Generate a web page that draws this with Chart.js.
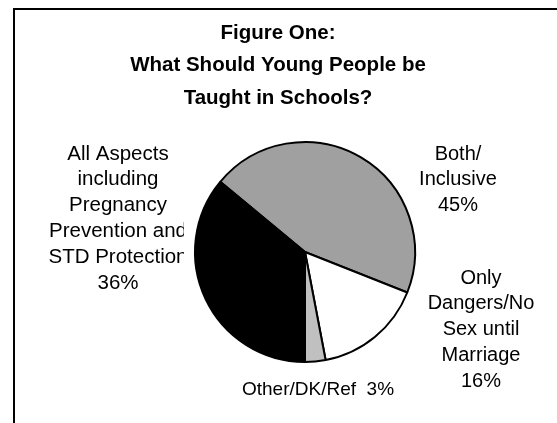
<!DOCTYPE html>
<html lang="en">
<head>
    <meta charset="UTF-8">
    <title>Figure One</title>
    <script src="https://cdn.jsdelivr.net/npm/chart.js"></script>
    <style>
        body {
            margin: 0;
            background-color: #ffffff;
        }
        #grafico {
            display: block;
        }
    </style>
</head>
<body>

<canvas id="grafico" width="557" height="423"></canvas>

<script>
    // dados da figura
    const categorias = ['Both/Inclusive', 'Only Dangers/No Sex until Marriage', 'Other/DK/Ref', 'All Aspects including Pregnancy Prevention and STD Protection'];
    const valores = [45, 16, 3, 36];
    const cores = ['#a0a0a0', '#ffffff', '#c0c0c0', '#000000'];
    const titulo = ['Figure One:', 'What Should Young People be', 'Taught in Schools?'];

    // rótulos das fatias, quebrados como no original
    const rotulos = [
        { linhas: ['Both/', 'Inclusive', '45%'], x: 458, y: 154, alinhar: 'center', tam: 20 },
        { linhas: ['Only', 'Dangers/No', 'Sex until', 'Marriage', '16%'], x: 481, y: 278, alinhar: 'center', tam: 20 },
        { linhas: ['Other/DK/Ref  3%'], x: 318, y: 390, alinhar: 'center', tam: 19 },
        { linhas: ['All Aspects', 'including', 'Pregnancy', 'Prevention and', 'STD Protection', '36%'], x: 118, y: 154, alinhar: 'center', tam: 20.5 }
    ];

    const fonte = '"Liberation Sans", Arial, sans-serif';

    // moldura, titulo e rotulos (desenhados antes da pizza; a area do grafico corta o texto)
    const desenhoExtra = {
        id: 'desenhoExtra',
        beforeDatasetsDraw(chart) {
            const ctx = chart.ctx;
            ctx.save();
            ctx.fillStyle = '#000';
            ctx.fillRect(13, 8, 2, 423);
            ctx.fillRect(13, 8, 557, 2);

            ctx.textBaseline = 'middle';
            ctx.textAlign = 'center';
            ctx.font = 'bold 20.5px ' + fonte;
            titulo.forEach((t, i) => ctx.fillText(t, 278, 33 + i * 32.5));

            rotulos.forEach(r => {
                ctx.font = r.tam + 'px ' + fonte;
                ctx.textAlign = r.alinhar;
                r.linhas.forEach((l, i) => ctx.fillText(l, r.x, r.y + i * 25.8));
            });

            // area de plotagem branca por cima do texto da esquerda
            ctx.fillStyle = '#fff';
            ctx.fillRect(184, 138, 231, 228);
            ctx.restore();
        }
    };

    new Chart(document.getElementById('grafico'), {
        type: 'pie',
        data: {
            labels: categorias,
            datasets: [{
                data: valores,
                backgroundColor: cores,
                borderColor: '#000000',
                borderWidth: 2
            }]
        },
        options: {
            responsive: false,
            animation: false,
            events: [],
            rotation: -50.4,
            radius: 110,
            layout: {
                padding: { left: 53, top: 81, right: 0, bottom: 0 }
            },
            plugins: {
                legend: { display: false },
                title: { display: false },
                tooltip: { enabled: false }
            }
        },
        plugins: [desenhoExtra]
    });
</script>

</body>
</html>
